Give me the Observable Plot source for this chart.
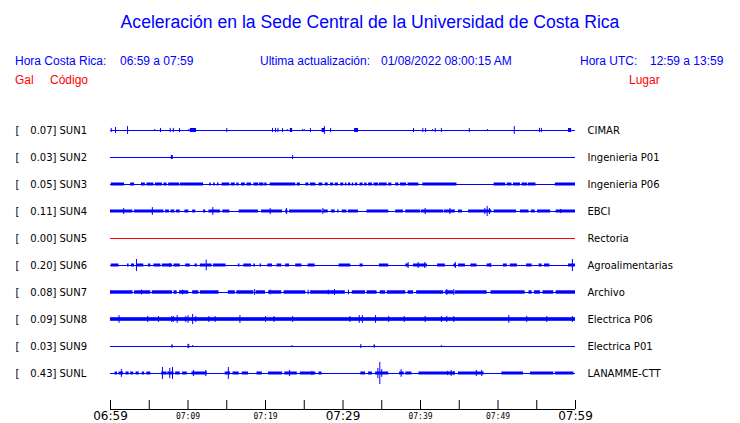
<!DOCTYPE html>
<html><head><meta charset="utf-8">
<script src="https://cdn.jsdelivr.net/npm/d3@7"></script>
<script src="https://cdn.jsdelivr.net/npm/@observablehq/plot@0.6"></script>
<style>
body{margin:0;background:#fff;}
#wrap{position:relative;width:740px;height:423px;overflow:hidden;font-family:"Liberation Sans",Arial,sans-serif;}
.h{position:absolute;white-space:pre;font-size:12px;line-height:12px;}
.blue{color:#0000ff}.red{color:#ff0000}
#chart{position:absolute;left:0;top:0;}
</style></head><body>
<div id="wrap">
<div id="chart"></div>
<div class="h blue" style="left:0;width:740px;text-align:center;top:13px;font-size:17.6px;line-height:18px">Aceleración en la Sede Central de la Universidad de Costa Rica</div>
<div class="h blue" style="left:15px;top:55px">Hora Costa Rica:</div>
<div class="h blue" style="left:120px;top:55px">06:59 a 07:59</div>
<div class="h blue" style="left:260px;top:55px">Ultima actualización:</div>
<div class="h blue" style="left:381px;top:55px">01/08/2022 08:00:15 AM</div>
<div class="h blue" style="left:580px;top:55px">Hora UTC:</div>
<div class="h blue" style="left:650px;top:55px">12:59 a 13:59</div>
<div class="h red" style="left:15px;top:74px">Gal</div>
<div class="h red" style="left:50px;top:74px">Código</div>
<div class="h red" style="left:629px;top:74px">Lugar</div>
</div>
<script>
const stations = ["SUN1","SUN2","SUN3","SUN4","SUN5","SUN6","SUN7","SUN8","SUN9","SUNL"];
const places = ["CIMAR","Ingenieria P01","Ingenieria P06","EBCI","Rectoria","Agroalimentarias","Archivo","Electrica P06","Electrica P01","LANAMME-CTT"];
const peakGal = [0.07,0.03,0.05,0.11,0.00,0.20,0.08,0.09,0.03,0.43];
// background noise half-amplitude (gal) of the busy stretches
const noiseLevel = [0.067,0.067,0.05,0.05,0,0.05,0.057,0.06,0.05,0.05];

// busy stretches [start, end] in minutes after 06:59
const bandsSUN1 = [[10.3,11.1],[23.2,23.5],[27.3,27.7],[31.5,32.0],[59.1,59.5]];
const bandsSUN2 = [[7.85,8.1]];
const bandsSUN3 = [[0.1,1.8],[2.6,3.1],[4.0,4.5],[4.7,5.6],[5.8,6.7],[6.9,7.3],[7.5,8.9],[9.0,12.0],[12.8,13.0],[13.3,13.5],[13.8,14.0],[14.4,15.4],[15.6,16.1],[16.3,16.6],[16.9,17.4],[17.6,18.2],[18.5,19.1],[19.2,19.8],[19.9,20.2],[20.6,23.9],[24.1,24.5],[25.2,25.6],[25.8,26.5],[26.9,27.4],[27.7,28.1],[28.4,28.8],[29.0,29.4],[29.7,30.1],[30.3,30.5],[30.7,31.0],[31.2,31.4],[31.6,31.9],[32.2,32.6],[32.8,33.1],[33.3,33.8],[34.0,34.6],[34.7,35.7],[35.9,36.3],[36.8,37.2],[37.4,38.2],[38.4,39.8],[40.3,44.7],[49.5,51.0],[51.2,51.8],[52.0,52.9],[53.1,53.8],[53.9,54.9],[57.4,60.0]];
const bandsSUN4 = [[0,2.9],[3.1,6.9],[7.1,7.6],[7.8,8.3],[8.5,9.0],[9.6,10.1],[10.6,11.0],[12.0,12.3],[12.7,14.2],[14.5,15.4],[16.6,19.1],[19.5,22.2],[22.6,22.9],[23.1,27.3],[27.5,28.1],[28.5,29.0],[29.3,29.5],[29.9,30.5],[30.7,32.0],[33.1,35.9],[36.8,37.8],[38.1,40.0],[40.1,43.0],[43.1,44.5],[44.9,45.4],[46.2,49.2],[49.5,52.4],[52.9,54.0],[54.3,54.8],[55.1,56.8],[57.5,60.0]];
const bandsSUN5 = [];
const bandsSUN6 = [[0.1,1.1],[2.2,2.4],[2.7,3.1],[3.4,4.3],[4.9,5.2],[5.6,6.5],[6.7,8.0],[8.2,9.0],[9.7,10.3],[10.9,11.2],[11.6,12.3],[12.3,13.1],[13.3,14.9],[16.5,16.7],[17.2,18.2],[18.5,18.7],[19.3,19.5],[20.3,20.9],[21.5,22.1],[22.6,23.1],[23.9,24.7],[25.5,26.4],[29.5,31.0],[32.2,32.6],[34.7,35.9],[38.1,38.5],[39.1,40.9],[42.2,43.2],[44.3,44.6],[44.9,45.8],[46.5,47.3],[48.6,49.2],[50.7,51.2],[51.6,52.5],[53.7,54.4],[55.3,55.7],[56.0,56.7],[59.1,60.0]];
const bandsSUN7 = [[0,2.9],[3.1,5.2],[5.4,8.0],[8.2,8.6],[8.9,10.1],[10.6,11.4],[11.6,14.0],[15.2,16.1],[16.3,18.5],[18.8,20.0],[20.4,22.1],[22.4,25.2],[25.8,30.3],[31.2,32.9],[33.1,34.4],[34.8,35.5],[35.7,38.1],[38.4,39.1],[39.5,43.0],[43.2,44.3],[44.5,48.6],[49.1,53.5],[54.0,54.4],[54.7,55.5],[55.8,57.2],[57.5,60.0]];
const bandsSUN8 = [[0,60]];
const bandsSUN9 = [[7.9,8.1],[34.0,34.2]];
const bandsSUNL = [[0.6,0.9],[1.1,1.7],[2.0,2.4],[2.6,3.0],[3.3,3.7],[4.1,4.4],[4.7,5.2],[6.6,7.3],[7.4,8.2],[8.4,9.0],[9.3,9.9],[10.5,12.5],[14.8,15.5],[15.8,16.6],[17.0,17.8],[18.9,19.6],[20.4,22.2],[22.5,24.1],[24.5,26.5],[26.9,27.3],[32.3,32.9],[33.3,33.8],[34.2,35.9],[37.3,37.9],[38.1,38.9],[39.8,44.5],[44.9,48.2],[50.5,53.3],[54.2,57.2],[57.4,59.8]];

// isolated peaks [minute, half-amplitude in gal]
const spikesSUN1 = [[0.1,0.07],[0.65,0.1],[2.2,0.13],[5.7,0.03],[6.45,0.07],[7.7,0.07],[8.1,0.07],[8.9,0.07],[10.1,0.03],[15.0,0.07],[20.9,0.07],[21.3,0.07],[21.6,0.07],[22.2,0.07],[22.8,0.03],[24.8,0.03],[25.0,0.03],[25.8,0.07],[27.6,0.13],[28.4,0.07],[39.1,0.07],[40.3,0.07],[40.65,0.07],[41.55,0.03],[41.9,0.07],[42.7,0.07],[46.3,0.07],[48.65,0.03],[52.1,0.13],[55.35,0.07],[55.6,0.07]];
const spikesSUN2 = [[23.5,0.07]];
const spikesSUN3 = [];
const spikesSUN4 = [[1.7,0.1],[5.4,0.13],[13.2,0.13],[20.6,0.1],[22.7,0.1],[27.4,0.1],[40.6,0.1],[43.8,0.1],[48.3,0.1],[48.6,0.17],[48.9,0.1],[58.1,0.07]];
const spikesSUN5 = [];
const spikesSUN6 = [[3.35,0.2],[7.65,0.07],[12.35,0.18],[38.4,0.1],[39.7,0.1],[40.55,0.1],[44.5,0.1],[49.0,0.07],[59.6,0.2]];
const spikesSUN7 = [[4.0,0.08],[9.3,0.08],[18.6,0.1],[20.6,0.08],[25.5,0.08],[28.1,0.08],[28.9,0.1],[30.7,0.08],[43.4,0.1],[44.3,0.1]];
const spikesSUN8 = [[1.1,0.13],[4.8,0.1],[6.2,0.1],[7.9,0.1],[8.1,0.1],[8.6,0.13],[9.7,0.1],[10.0,0.13],[10.6,0.17],[11.0,0.1],[12.7,0.1],[13.5,0.1],[16.7,0.13],[20.0,0.1],[21.1,0.1],[23.5,0.1],[30.9,0.1],[32.1,0.13],[32.5,0.13],[34.2,0.13],[35.9,0.1],[37.9,0.1],[40.6,0.1],[42.7,0.1],[43.4,0.1],[44.3,0.1],[51.4,0.13],[53.7,0.1],[56.3,0.1],[59.6,0.1]];
const spikesSUN9 = [[10.0,0.07],[10.1,0.07],[10.6,0.03],[23.4,0.03],[32.3,0.07],[42.7,0.03]];
const spikesSUNL = [[1.4,0.13],[6.7,0.2],[7.65,0.17],[8.0,0.2],[10.7,0.1],[12.3,0.1],[15.2,0.2],[23.1,0.1],[26.0,0.07],[34.5,0.17],[34.75,0.37],[35.0,0.13],[37.5,0.13],[43.5,0.07],[43.95,0.1],[44.3,0.07],[47.2,0.1],[47.9,0.1]];

const tickMinutes = [0,5,10,15,20,25,30,35,40,45,50,55,60];
const labelMinutes = [0,10,20,30,40,50,60];
const tickLabels = ["06:59","07:09","07:19","07:29","07:39","07:49","07:59"];
const majorLabel = [true,false,false,true,false,false,true];

const allBands = [bandsSUN1,bandsSUN2,bandsSUN3,bandsSUN4,bandsSUN5,bandsSUN6,bandsSUN7,bandsSUN8,bandsSUN9,bandsSUNL];
const allSpikes = [spikesSUN1,spikesSUN2,spikesSUN3,spikesSUN4,spikesSUN5,spikesSUN6,spikesSUN7,spikesSUN8,spikesSUN9,spikesSUNL];

const rowGap = 0.9; // gal between trace baselines
const rows = stations.map((s,i)=>({i, station:s, place:places[i], peak:peakGal[i], base:i*rowGap,
  color: peakGal[i] === 0 ? "#ff0000" : "#0000ff"}));
const bands = rows.flatMap(r => allBands[r.i].map(([a,b]) => ({x1:a, x2:b, y1:r.base-noiseLevel[r.i], y2:r.base+noiseLevel[r.i], color:r.color})));
const spikes = rows.flatMap(r => allSpikes[r.i].map(([t,a]) => ({x:t, y1:r.base-a, y2:r.base+a, color:r.color})));
const axisY = (stations.length-1)*rowGap + 1.2;
const labels = labelMinutes.map((m,k)=>({m, text:tickLabels[k], major:majorLabel[k]}));

const chart = Plot.plot({
  width: 740, height: 423,
  marginLeft: 110, marginRight: 165, marginTop: 130, marginBottom: 50,
  x: {domain:[0,60], axis:null},
  y: {domain:[0,(stations.length-1)*rowGap], reverse:true, axis:null},
  color: {type:"identity"},
  style: {background:"white", overflow:"visible"},
  marks: [
    Plot.ruleY(rows, {y:"base", x1:0, x2:60, stroke:"color", strokeWidth:1}),
    Plot.rect(bands, {x1:"x1", x2:"x2", y1:"y1", y2:"y2", fill:"color"}),
    Plot.ruleX(spikes, {x:"x", y1:"y1", y2:"y2", stroke:"color", strokeWidth:1}),
    // row labels
    Plot.text(rows, {y:"base", text:()=>"[", frameAnchor:"left", dx:-95, textAnchor:"start", fontSize:10, fontFamily:"DejaVu Sans", fill:"black"}),
    Plot.text(rows, {y:"base", text:d=>d.peak.toFixed(2)+"]", frameAnchor:"left", dx:-54, textAnchor:"end", fontSize:10, fontFamily:"DejaVu Sans", fill:"black"}),
    Plot.text(rows, {y:"base", text:"station", frameAnchor:"left", dx:-51, textAnchor:"start", fontSize:10, fontFamily:"DejaVu Sans", fill:"black"}),
    Plot.text(rows, {y:"base", text:"place", frameAnchor:"right", dx:12, textAnchor:"start", fontSize:10, fontFamily:"DejaVu Sans", fill:"black"}),
    // time axis
    Plot.ruleY([axisY], {x1:0, x2:60, stroke:"black"}),
    Plot.ruleX(tickMinutes, {x:d=>d, y1:axisY-0.3, y2:axisY, stroke:"black"}),
    Plot.text(labels.filter(d=>d.major), {x:"m", y:axisY, text:"text", dy:7, fontSize:12, fontFamily:"DejaVu Sans", fill:"black"}),
    Plot.text(labels.filter(d=>!d.major), {x:"m", y:axisY, text:"text", dy:6.5, fontSize:8, fontFamily:"DejaVu Sans Mono", fill:"black"})
  ]
});
document.getElementById("chart").appendChild(chart);
</script>
</body></html>
